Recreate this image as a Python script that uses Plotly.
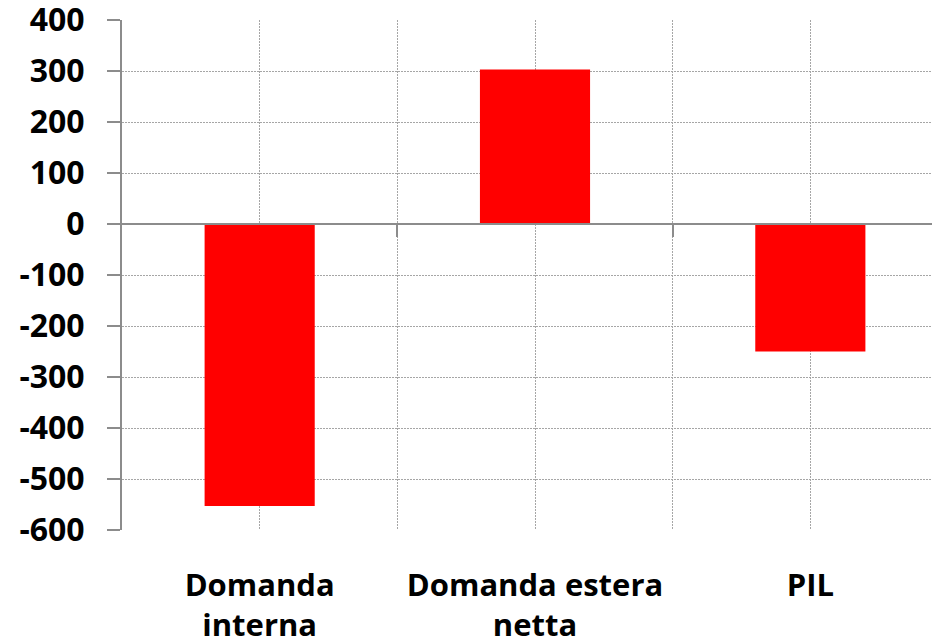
import plotly.graph_objects as go

categories = ["Domanda<br>interna", "Domanda estera<br>netta", "PIL"]
values = [-553, 303, -250]
y_ticks = [400, 300, 200, 100, 0, -100, -200, -300, -400, -500, -600]
y_tick_labels = [str(v) for v in y_ticks]

xpos = list(range(len(categories)))
grid_col = "#a6a6a6"
axis_col = "#8c8c8c"
font_family = "Open Sans"

fig = go.Figure()
fig.add_trace(go.Bar(
    x=xpos, y=values, width=0.4,
    marker=dict(color="#ff0000", line=dict(width=0)),
    hoverinfo="skip", showlegend=False,
))
# helper trace to materialise the zero-crossing category axis
fig.add_trace(go.Scatter(x=[0], y=[None], xaxis="x2", yaxis="y",
                         showlegend=False, hoverinfo="skip"))

x_range = [-0.5, 2.5]

fig.update_layout(
    template="none",
    width=940, height=642,
    margin=dict(l=114, r=0, t=12, b=120, autoexpand=False),
    paper_bgcolor="white", plot_bgcolor="white",
    xaxis=dict(
        range=x_range, automargin=False,
        tickmode="array", tickvals=xpos, ticktext=categories,
        showgrid=True, gridcolor=grid_col, griddash="2px,1px", gridwidth=1,
        minor=dict(tickvals=[0.5, 1.5], showgrid=True, gridcolor=grid_col,
                   griddash="2px,1px", gridwidth=1, ticks=""),
        showline=False, zeroline=False, ticks="",
        ticklabelstandoff=34, ticklabeloverflow="allow",
        tickfont=dict(family=font_family, size=31, color="black", weight="bold"),
    ),
    xaxis2=dict(
        overlaying="x", anchor="free", position=0.6, side="bottom",
        range=x_range, automargin=False,
        showline=True, linecolor=axis_col, linewidth=2,
        ticks="outside", tickvals=[0.5, 1.5], ticklen=12, tickwidth=2,
        tickcolor=axis_col, showticklabels=False, showgrid=False, zeroline=False,
    ),
    yaxis=dict(
        range=[-600, 400], automargin=False,
        tickmode="array", tickvals=y_ticks, ticktext=y_tick_labels,
        showgrid=True, gridcolor=grid_col, griddash="2px,1px", gridwidth=1,
        zeroline=False,
        showline=True, linecolor=axis_col, linewidth=2,
        ticks="outside", ticklen=13, tickwidth=2, tickcolor=axis_col,
        ticklabelstandoff=16, ticklabeloverflow="allow",
        tickfont=dict(family=font_family, size=32, color="black", weight="bold"),
    ),
)

fig.write_html("out.html")
